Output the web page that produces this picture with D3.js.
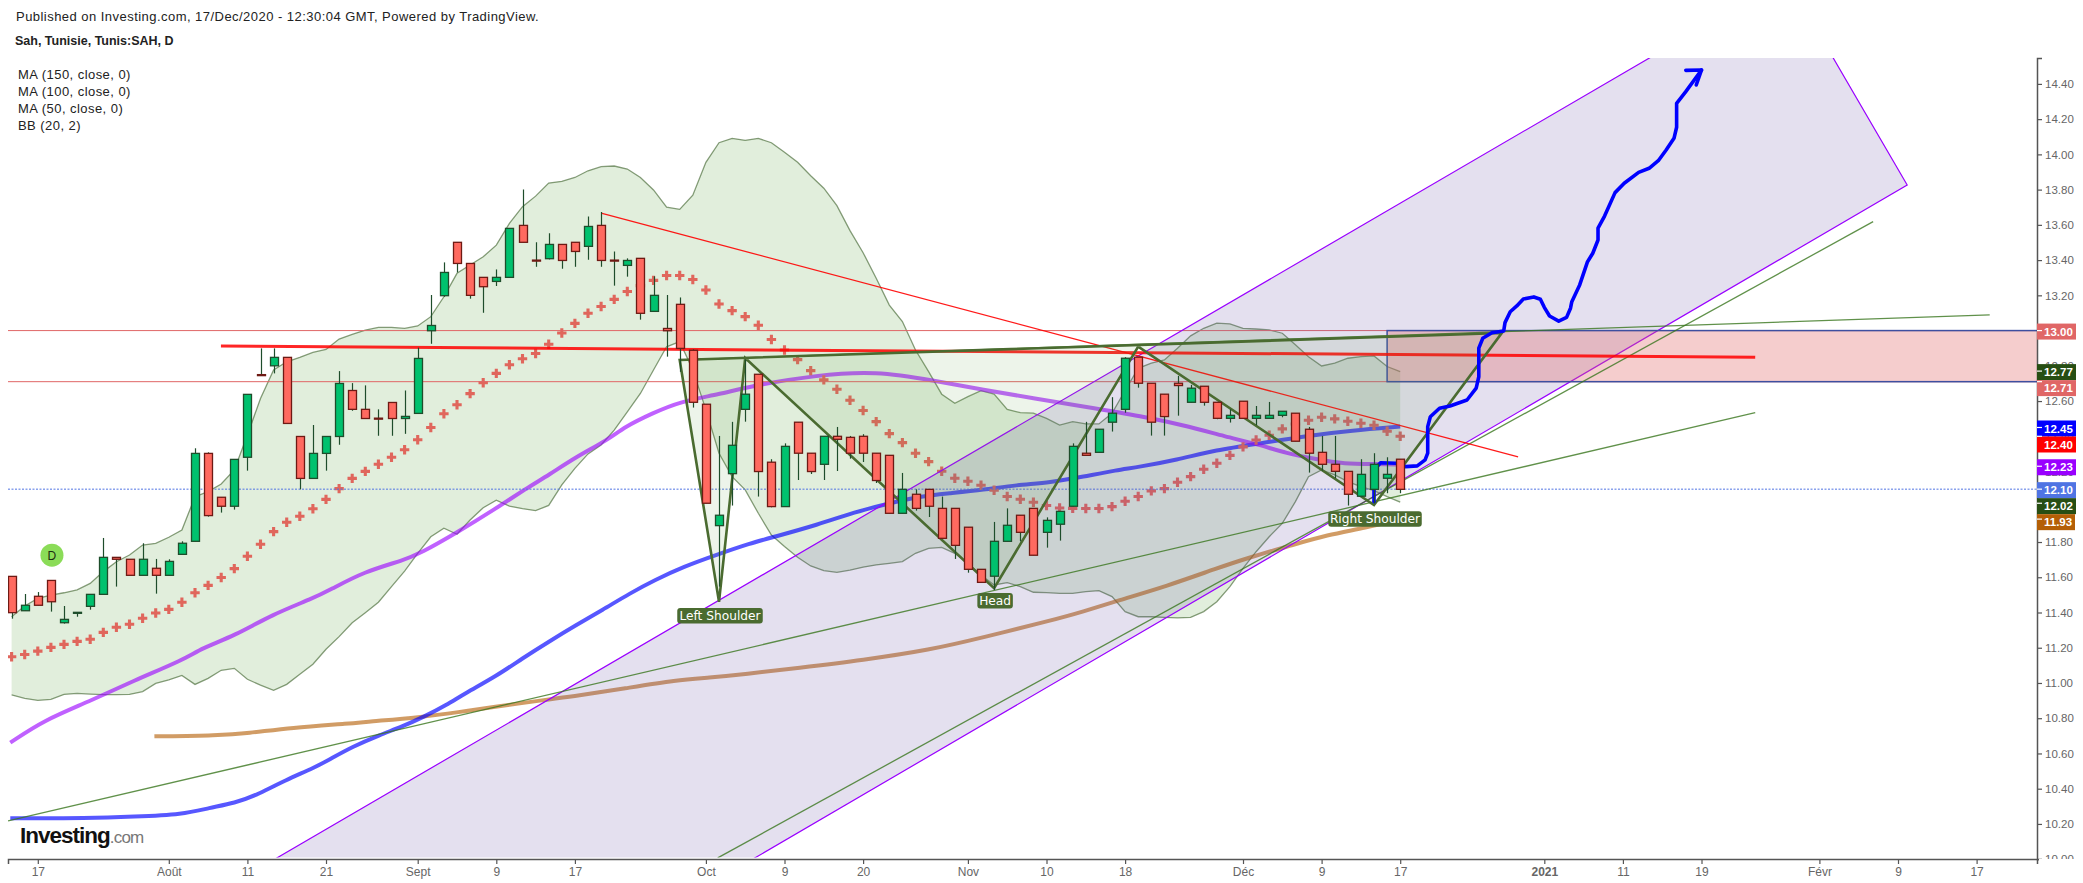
<!DOCTYPE html>
<html><head><meta charset="utf-8">
<script src="https://cdn.jsdelivr.net/npm/d3@7"></script>
<style>html,body{margin:0;padding:0;background:#fff}svg{display:block}text{font-family:"Liberation Sans",Arial,sans-serif}</style>
</head><body><svg id="c" width="2083" height="883"></svg>
<script>
const opens=[11.605,11.410,11.492,11.582,11.342,11.399,11.435,11.503,11.713,11.702,11.611,11.651,11.611,11.730,11.804,12.303,12.054,12.003,12.281,12.750,12.800,12.848,12.399,12.161,12.303,12.399,12.660,12.553,12.503,12.592,12.501,12.530,12.999,13.198,13.501,13.381,13.302,13.279,13.302,13.597,13.400,13.408,13.489,13.501,13.478,13.597,13.400,13.370,13.410,13.109,13.012,13.149,12.888,12.582,11.893,12.188,12.553,12.752,12.253,12.001,12.480,12.304,12.241,12.400,12.394,12.400,12.304,12.292,11.963,12.071,12.099,11.991,11.991,11.884,11.645,11.606,11.804,11.952,11.991,11.855,11.901,12.003,12.304,12.309,12.480,12.553,12.849,12.701,12.639,12.701,12.593,12.684,12.593,12.502,12.599,12.502,12.502,12.519,12.531,12.440,12.309,12.241,12.201,12.060,12.099,12.162,12.270];
const closes=[11.399,11.441,11.441,11.461,11.361,11.401,11.503,11.713,11.702,11.611,11.702,11.611,11.690,11.793,12.303,11.950,12.003,12.269,12.638,12.748,12.848,12.473,12.161,12.303,12.399,12.700,12.553,12.501,12.501,12.501,12.513,12.842,13.029,13.330,13.381,13.200,13.249,13.302,13.580,13.501,13.398,13.489,13.398,13.449,13.591,13.398,13.398,13.398,13.098,13.200,12.999,12.899,12.593,12.020,11.952,12.349,12.639,12.200,12.001,12.343,12.304,12.200,12.400,12.383,12.304,12.304,12.149,11.963,12.099,11.991,12.003,11.821,11.781,11.645,11.571,11.804,11.895,11.855,11.725,11.923,11.974,12.343,12.292,12.440,12.531,12.843,12.701,12.480,12.512,12.688,12.673,12.593,12.502,12.519,12.502,12.519,12.519,12.542,12.372,12.304,12.241,12.201,12.071,12.184,12.241,12.184,12.099];
const highs=[11.605,11.505,11.516,11.582,11.437,11.401,11.503,11.823,11.713,11.702,11.793,11.704,11.702,11.804,12.332,12.309,12.054,12.269,12.638,12.899,12.899,12.848,12.399,12.464,12.399,12.770,12.702,12.689,12.553,12.592,12.660,12.903,13.202,13.387,13.501,13.381,13.302,13.347,13.580,13.801,13.501,13.552,13.489,13.501,13.648,13.673,13.449,13.410,13.410,13.308,13.202,13.188,12.894,12.582,12.402,12.482,12.837,12.752,12.270,12.360,12.480,12.304,12.400,12.453,12.402,12.412,12.304,12.292,12.192,12.099,12.099,12.058,11.991,11.884,11.645,11.914,11.991,11.952,11.991,11.940,11.974,12.360,12.482,12.440,12.622,12.849,12.849,12.701,12.639,12.743,12.692,12.684,12.593,12.553,12.599,12.572,12.595,12.542,12.531,12.453,12.402,12.402,12.201,12.270,12.304,12.281,12.270];
const lows=[11.365,11.410,11.441,11.405,11.337,11.376,11.416,11.503,11.547,11.611,11.611,11.507,11.611,11.730,11.804,11.944,11.967,11.984,12.205,12.748,12.757,12.473,12.099,12.161,12.205,12.352,12.545,12.501,12.403,12.403,12.414,12.530,12.925,13.192,13.330,13.181,13.101,13.253,13.302,13.501,13.362,13.404,13.351,13.362,13.402,13.362,13.255,13.306,13.062,13.109,12.852,12.766,12.563,12.020,11.547,12.007,12.483,12.058,11.997,12.001,12.152,12.186,12.152,12.203,12.273,12.254,12.135,11.963,11.963,11.978,11.942,11.821,11.704,11.626,11.571,11.528,11.804,11.804,11.725,11.768,11.808,12.003,12.292,12.309,12.427,12.534,12.676,12.404,12.404,12.517,12.593,12.574,12.497,12.478,12.502,12.463,12.502,12.508,12.372,12.194,12.205,12.162,12.007,12.060,12.020,12.077,12.077];

const bbBasis=[11.149,11.162,11.181,11.202,11.219,11.236,11.248,11.287,11.316,11.333,11.367,11.397,11.418,11.458,11.512,11.554,11.599,11.649,11.719,11.787,11.859,11.912,11.946,11.989,12.042,12.103,12.161,12.201,12.241,12.281,12.324,12.380,12.450,12.528,12.579,12.642,12.704,12.757,12.806,12.840,12.870,12.922,12.986,13.041,13.098,13.137,13.177,13.222,13.255,13.285,13.313,13.313,13.290,13.230,13.151,13.113,13.079,13.030,12.949,12.890,12.835,12.773,12.720,12.667,12.605,12.546,12.483,12.415,12.364,12.304,12.256,12.202,12.162,12.145,12.122,12.094,12.058,12.043,12.026,12.007,11.993,11.991,11.990,11.990,12.001,12.031,12.058,12.090,12.103,12.139,12.171,12.213,12.247,12.292,12.340,12.379,12.406,12.442,12.470,12.491,12.508,12.499,12.485,12.474,12.463,12.429,12.400];
const bbUpper=[11.376,11.437,11.480,11.499,11.512,11.528,11.565,11.632,11.688,11.726,11.783,11.792,11.827,11.868,12.057,12.086,12.129,12.209,12.407,12.615,12.776,12.823,12.848,12.876,12.893,12.952,12.978,13.003,13.018,13.018,13.012,13.026,13.079,13.192,13.325,13.372,13.419,13.485,13.608,13.703,13.763,13.837,13.847,13.869,13.907,13.930,13.934,13.917,13.869,13.798,13.700,13.688,13.768,13.955,14.066,14.091,14.080,14.091,14.066,14.012,13.955,13.879,13.808,13.709,13.567,13.442,13.297,13.145,13.051,12.890,12.767,12.639,12.587,12.625,12.659,12.639,12.553,12.534,12.531,12.502,12.464,12.483,12.470,12.470,12.531,12.660,12.786,12.815,12.833,12.900,12.970,13.013,13.042,13.038,13.013,13.009,13.004,12.985,12.919,12.852,12.799,12.815,12.843,12.852,12.856,12.796,12.767];
const bbLower=[10.932,10.913,10.901,10.907,10.935,10.941,10.937,10.934,10.934,10.935,10.951,10.998,11.017,11.043,10.992,11.026,11.072,11.083,11.021,10.988,10.958,10.992,11.049,11.106,11.191,11.263,11.342,11.399,11.458,11.547,11.635,11.736,11.830,11.878,11.844,11.925,11.995,12.037,12.004,11.989,11.978,12.008,12.124,12.218,12.300,12.351,12.435,12.539,12.643,12.776,12.908,12.937,12.777,12.550,12.304,12.171,12.096,11.963,11.840,11.774,11.713,11.664,11.638,11.628,11.641,11.657,11.670,11.679,11.689,11.736,11.764,11.770,11.736,11.679,11.613,11.556,11.570,11.547,11.515,11.513,11.509,11.509,11.519,11.524,11.490,11.405,11.376,11.376,11.372,11.369,11.372,11.405,11.461,11.547,11.651,11.745,11.830,11.906,12.029,12.171,12.209,12.181,12.143,12.115,12.092,12.058,12.026];

const ma50=[[-0.1,10.661],[2.5,10.790],[5.9,10.894],[9.3,11.013],[13.1,11.130],[14.5,11.197],[17,11.267],[19.9,11.389],[23,11.480],[24.3,11.528],[26.9,11.632],[30,11.698],[31.2,11.736],[33.9,11.849],[37,11.991],[39.3,12.105],[41,12.180],[43.1,12.284],[45.5,12.379],[46.8,12.454],[48.9,12.530],[51,12.597],[54.1,12.639],[56.4,12.686],[61.5,12.748],[66,12.771],[70.4,12.716],[74.2,12.663],[78,12.616],[81.8,12.569],[86.4,12.512],[89.4,12.464],[92.7,12.398],[95.3,12.351],[97.3,12.304],[99.6,12.270],[101.7,12.243],[104.2,12.243],[106,12.240]];
const ma100=[[-0.1,10.232],[5.9,10.232],[9.3,10.241],[13.1,10.254],[15.1,10.292],[17,10.317],[18.9,10.370],[20.9,10.449],[23,10.515],[24.2,10.563],[26,10.638],[28.1,10.705],[29.8,10.752],[31.5,10.809],[33.2,10.875],[34.6,10.941],[37,11.039],[39,11.140],[41,11.234],[43.1,11.329],[45.1,11.414],[47.2,11.509],[49.1,11.584],[51.3,11.660],[53.8,11.727],[56.4,11.793],[58.1,11.827],[61.5,11.897],[64.5,11.973],[66.5,12.010],[69.1,12.058],[71.6,12.077],[74.2,12.096],[76.7,12.124],[79.3,12.137],[81.8,12.171],[84.4,12.209],[86,12.225],[88.9,12.266],[92,12.323],[95,12.357],[99.4,12.408],[102.2,12.432],[106,12.455]];
const ma150=[[10.9,10.697],[15.8,10.703],[18,10.714],[21.3,10.746],[26,10.771],[27.1,10.780],[31.2,10.805],[34.2,10.835],[36.6,10.862],[41,10.907],[43.1,10.926],[46.8,10.969],[50.8,11.017],[53.2,11.030],[56,11.050],[60,11.085],[65,11.130],[70.1,11.187],[74.2,11.259],[79.3,11.354],[81.8,11.405],[84.4,11.467],[88.2,11.550],[92,11.651],[94.5,11.713],[97.6,11.779],[100.4,11.840],[103.4,11.881],[106,11.930]];

const channel=[[6.75,9.422],[135.5,15.001],[144.7,13.826],[41.9,9.363]];
const hsPattern=[[51,12.833],[54,11.461],[56,12.844],[75,11.538],[86,12.909],[104,12.010],[113.75,12.986]];
const zoneBar=105, zoneTop=13.00, zoneBottom=12.71;
const trendGreen1=[[-0.27,10.217],[133.1,12.534]];
const trendGreen2=[[53.9,10.007],[142.1,13.618]];
const trendGreen3=[[51,12.833],[151,13.089]];
const trendRed=[[45,13.667],[115,12.283]];
const neckRed=[[15.98,12.913],[133.1,12.849]];
const forecast=[[104,12.029],[104,12.209],[104.5,12.250],[105.7,12.247],[106.4,12.228],[107.3,12.232],[107.9,12.266],[108.1,12.304],[108.1,12.455],[108.3,12.511],[109,12.559],[109.8,12.572],[111.1,12.606],[111.8,12.673],[112,12.738],[112,12.900],[112.3,12.956],[113,12.988],[113.9,12.998],[114,13.045],[114.4,13.107],[114.9,13.140],[115.4,13.179],[116.2,13.191],[116.7,13.178],[117,13.132],[117.4,13.083],[118.1,13.054],[118.7,13.075],[119,13.127],[119.1,13.164],[119.7,13.259],[120.3,13.391],[120.7,13.439],[121.1,13.514],[121.1,13.581],[121.6,13.650],[122.4,13.783],[123.1,13.836],[124.2,13.898],[125,13.921],[125.7,13.964],[126.3,14.025],[126.9,14.091],[127.1,14.154],[127.1,14.290],[127.8,14.356],[129,14.479]];
const forecastHead=[[127.8,14.477],[129,14.479],[128.6,14.394]];

const hLevels=[13.00,12.71];
const lastPrice=12.10;
const priceLabels=[[13.00,"#e06666"],[12.77,"#274e13"],[12.71,"#e06666"],[12.45,"#0000ff"],[12.40,"#ff0000"],[12.23,"#9900ff"],[12.10,"#4f74e3"],[12.02,"#274e13"],[11.93,"#b45f06"]];
const yTicks=d3.range(0,23).map(i=>10+i*0.2);
const xTickBars=[2,12,18,24,31,37,43,53,59,65,73,79,85,94,100,106,117,123,129,138,144,150];
const xTickLabels=["17","Août","11","21","Sept","9","17","Oct","9","20","Nov","10","18","Déc","9","17","2021","11","19","Févr","9","17"];
const patternLabels=[["Left Shoulder",1,14,85.5],["Head",3,12.5,35.5],["Right Shoulder",5,14,93.5]];
const legend=["MA (150, close, 0)","MA (100, close, 0)","MA (50, close, 0)","BB (20, 2)"];

const W=2083,H=883,L=8,R=2037,T=58,B=859;
const x=d3.scaleLinear().domain([-0.275,154.61]).range([L,R]);
const y=d3.scaleLinear().domain([10.001,14.547]).range([B,T]);
const svg=d3.select("#c");
const defs=svg.append("defs");
defs.append("clipPath").attr("id","plot").append("rect").attr("x",L).attr("y",T).attr("width",R-L).attr("height",B-T-1.5);

const bars=opens.map((o,i)=>({i,o,h:highs[i],l:lows[i],c:closes[i]}));
const line=d3.line().x(d=>x(d[0])).y(d=>y(d[1]));
const plot=svg.append("g").attr("clip-path","url(#plot)");

// Bollinger band
const upPts=bbUpper.map((v,i)=>[i,v]), loPts=bbLower.map((v,i)=>[i,v]);
plot.append("path").attr("d",d3.area().x(d=>x(d[0])).y0((d,i)=>y(bbLower[i])).y1(d=>y(d[1]))(upPts)).attr("fill","rgba(106,168,79,.2)");
[upPts,loPts].forEach(p=>plot.append("path").attr("d",line(p)).attr("fill","none").attr("stroke","#274e13").attr("stroke-opacity",.55).attr("stroke-width",1.3));

// moving averages
const curve=d3.line().x(d=>x(d[0])).y(d=>y(d[1])).curve(d3.curveBasis);
[[ma150,"#b45f06",.62],[ma100,"#0000ff",.66],[ma50,"#9900ff",.62]].forEach(([d,c,a])=>
  plot.append("path").attr("d",curve(d)).attr("fill","none").attr("stroke",c).attr("stroke-opacity",a).attr("stroke-width",4).attr("stroke-linecap","butt"));

// basis crosses
plot.append("g").selectAll("path").data(bbBasis).join("path")
  .attr("d",(v,i)=>{const a=x(i),b=y(v);return `M${a-4.7},${b}H${a+4.7}M${a},${b-4.7}V${b+4.7}`})
  .attr("stroke","#e0665c").attr("stroke-width",3.1).attr("fill","none");

// horizontal levels
plot.append("g").selectAll("line").data(hLevels).join("line").attr("x1",L).attr("x2",R).attr("y1",d=>y(d)).attr("y2",d=>y(d)).attr("stroke","#e06666").attr("stroke-width",1);
plot.append("line").attr("x1",L).attr("x2",R).attr("y1",y(lastPrice)).attr("y2",y(lastPrice)).attr("stroke","#4f74e3").attr("stroke-width",1).attr("stroke-dasharray","2,1.5");

// channel
plot.append("path").attr("d",line(channel)+"Z").attr("fill","rgba(103,78,167,.175)").attr("stroke","#9900ff").attr("stroke-width",1.2);

// zone
plot.append("rect").attr("x",x(zoneBar)).attr("y",y(zoneTop)).attr("width",R-x(zoneBar)+5).attr("height",y(zoneBottom)-y(zoneTop))
  .attr("fill","rgba(224,102,102,.33)").attr("stroke","#3d4fa0").attr("stroke-width",1.5);

// thin trend lines
[trendGreen1,trendGreen2,trendGreen3].forEach(d=>plot.append("path").attr("d",line(d)).attr("stroke","#38761d").attr("stroke-opacity",.8).attr("stroke-width",1.3).attr("fill","none"));
plot.append("path").attr("d",line(trendRed)).attr("stroke","#ff0000").attr("stroke-opacity",.9).attr("stroke-width",1.3).attr("fill","none");
plot.append("path").attr("d",line(neckRed)).attr("stroke","#ff0000").attr("stroke-opacity",.85).attr("stroke-width",3).attr("fill","none");

// head & shoulders
plot.append("path").attr("d",line(hsPattern)+"Z").attr("fill","rgba(106,168,79,.12)").attr("stroke","#4a6b30").attr("stroke-width",2.6).attr("stroke-linejoin","miter");

// forecast
const fc=plot.append("g").attr("fill","none").attr("stroke","#0000ff").attr("stroke-width",3.6).attr("stroke-linejoin","round").attr("stroke-linecap","round");
fc.append("path").attr("d",line(forecast));
fc.append("path").attr("d",line(forecastHead));

// candles
const cg=plot.append("g");
cg.selectAll("line").data(bars).join("line").attr("x1",d=>Math.round(x(d.i))+.5).attr("x2",d=>Math.round(x(d.i))+.5).attr("y1",d=>y(d.h)).attr("y2",d=>y(d.l)).attr("stroke","#1e4d2b").attr("stroke-width",1.2);
cg.selectAll("rect").data(bars).join("rect")
  .attr("x",d=>Math.round(x(d.i))-3.5).attr("width",8)
  .attr("y",d=>y(Math.max(d.o,d.c))).attr("height",d=>Math.max(1,Math.abs(y(d.o)-y(d.c))))
  .attr("fill",d=>d.c>=d.o?"#00c16e":"#ff6a60").attr("stroke",d=>d.c>=d.o?"#1e4d2b":"#6e1a14").attr("stroke-width",1.3);

// chips
const chips=svg.append("g");
patternLabels.forEach(([t,k,dy,w])=>{
  const cx=x(hsPattern[k][0])+1, cy=y(hsPattern[k][1])+dy;
  chips.append("rect").attr("x",cx-w/2).attr("y",cy-7.7).attr("width",w).attr("height",15.4).attr("rx",3).attr("fill","#4a6b30");
  chips.append("text").attr("x",cx).attr("y",cy).attr("dy",".36em").attr("text-anchor","middle").attr("fill","#fff").style("font-family","DejaVu Sans").style("font-size","12.2px").text(t);
});

// D badge
const dBar=3.08,dPrice=11.725;
svg.append("circle").attr("cx",x(dBar)).attr("cy",y(dPrice)).attr("r",11.5).attr("fill","#8bdc58");
svg.append("text").attr("x",x(dBar)).attr("y",y(dPrice)).attr("dy",".36em").attr("text-anchor","middle").style("font-size","12px").attr("fill","#1d2b10").text("D");

// axes
const xLab=new Map(xTickBars.map((b,i)=>[b,xTickLabels[i]]));
const ax=svg.append("g").attr("transform",`translate(0,${B})`).call(d3.axisBottom(x).tickValues(xTickBars).tickFormat(b=>xLab.get(b)).tickSizeOuter(0).tickSize(5).tickPadding(3));
ax.select(".domain").attr("stroke","#555").attr("stroke-width",1.5);
ax.selectAll("line").attr("stroke","#555").attr("stroke-width",1.2);
ax.selectAll("text").attr("fill","#666").style("font-size","12px").style("font-family","Liberation Sans");
ax.selectAll(".tick text").filter(d=>d===117).style("font-weight","bold");
const ay=svg.append("g").attr("transform",`translate(${R},0)`).call(d3.axisRight(y).tickValues(yTicks).tickFormat(d3.format(".2f")).tickSizeOuter(0).tickSize(5).tickPadding(3));
ay.select(".domain").attr("stroke","#555").attr("stroke-width",1.5);
ay.selectAll("line").attr("stroke","#555").attr("stroke-width",1.2);
ay.selectAll("text").attr("fill","#666").style("font-size","11.5px").style("font-family","Liberation Sans");
// the bottom tick label is cut off by the chart's lower edge
svg.append("rect").attr("x",R+2).attr("y",B).attr("width",50).attr("height",12).attr("fill","#fff");

// price labels (pushed down when they collide)
let prev=-1e9;
priceLabels.forEach(([v,c])=>{
  let py=Math.max(y(v)+1,prev+16); prev=py;
  svg.append("rect").attr("x",R).attr("y",py-8).attr("width",v===11.93?38:39).attr("height",16).attr("fill",c);
  svg.append("line").attr("x1",R).attr("x2",R+5).attr("y1",y(v)).attr("y2",y(v)).attr("stroke","#fff").attr("stroke-width",1.2);
  svg.append("text").attr("x",R+7).attr("y",py).attr("dy",".36em").attr("fill","#fff").attr("font-weight","bold").style("font-size","11.5px").text(v.toFixed(2));
});

// titles
svg.append("text").attr("x",16).attr("y",21).attr("fill","#222").style("font-size","13px").style("letter-spacing",".46px").text("Published on Investing.com, 17/Dec/2020 - 12:30:04 GMT, Powered by TradingView.");
svg.append("text").attr("x",15).attr("y",45).attr("fill","#222").attr("font-weight","bold").style("font-size","12.5px").text("Sah, Tunisie, Tunis:SAH, D");
svg.append("g").selectAll("text").data(legend).join("text").attr("x",18).attr("y",(d,i)=>78.5+i*17.2).attr("fill","#222").style("font-size","13px").style("letter-spacing",".45px").text(d=>d);

// logo
const logo=svg.append("text").attr("x",20).attr("y",843);
logo.append("tspan").attr("fill","#111").attr("font-weight","bold").style("font-size","22.5px").style("letter-spacing","-1px").text("Investing");
logo.append("tspan").attr("fill","#777").style("font-size","17px").style("letter-spacing","-.8px").text(".com");
</script></body></html>
